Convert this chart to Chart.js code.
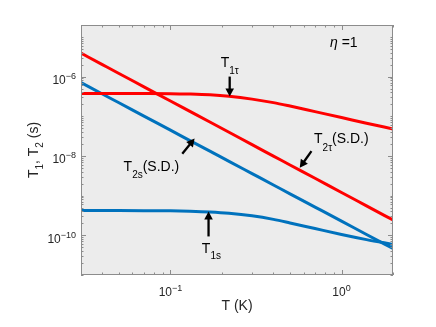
<!DOCTYPE html>
<html>
<head>
<meta charset="utf-8">
<script src="https://cdn.jsdelivr.net/npm/chart.js@4"></script>
<style>
  html, body { margin: 0; padding: 0; background: #fff; }
</style>
</head>
<body>
<canvas id="chart" width="436" height="327"></canvas>
<script>
// temperature (K) and relaxation times (s)
const temps = [0.03, 0.04, 0.05, 0.07, 0.1, 0.13, 0.17, 0.22, 0.3, 0.4, 0.5, 0.7, 1.0, 1.4, 2.0];
const t1Tau = [3.75e-7, 3.75e-7, 3.75e-7, 3.74e-7, 3.72e-7, 3.63e-7, 3.47e-7, 3.19e-7, 2.71e-7, 2.21e-7, 1.81e-7, 1.31e-7, 9.3e-8, 6.7e-8, 4.8e-8];
const t2Tau = [3.91e-6, 2.01e-6, 1.20e-6, 5.53e-7, 2.43e-7, 1.33e-7, 7.18e-8, 3.96e-8, 1.93e-8, 9.95e-9, 5.94e-9, 2.74e-9, 1.20e-9, 5.53e-10, 2.43e-10];
const t2s = [7.06e-7, 3.65e-7, 2.19e-7, 1.01e-7, 4.47e-8, 2.44e-8, 1.32e-8, 7.34e-9, 3.60e-9, 1.86e-9, 1.11e-9, 5.15e-10, 2.28e-10, 1.05e-10, 4.65e-11];
const t1s = [4.2e-10, 4.2e-10, 4.2e-10, 4.19e-10, 4.16e-10, 4.06e-10, 3.88e-10, 3.6e-10, 3.1e-10, 2.52e-10, 2.05e-10, 1.48e-10, 1.05e-10, 7.8e-11, 5.9e-11];

// labelled ticks: value and exponent text
const xTickValues = [0.1, 1];
const xTickExps = ['\u22121', '0'];
const yTickValues = [1e-10, 1e-8, 1e-6];
const yTickExps = ['\u221210', '\u22128', '\u22126'];

const X_MIN = 0.03, X_MAX = 2, Y_MIN = 1e-11, Y_MAX = 2e-5;
const FONT = '"Liberation Sans", Arial, sans-serif';
const RED = '#ff0000', BLUE = '#0072bd';

// annotation: arrow tip in data space, tail and text offsets in px
const notes = [
  {x: 0.222, y: 3.14e-7, tail: [0, -20], at: [-9, -29.7], runs: [{t: 'T', s: 14}, {t: '1τ', s: 10, dy: 6.7}]},
  {x: 0.57, y: 5.05e-9, tail: [11.7, -16.6], at: [14.3, -24.3], runs: [{t: 'T', s: 14}, {t: '2τ', s: 10, dy: 7.7}, {t: '(S.D.)', s: 14}]},
  {x: 0.1384, y: 2.75e-8, tail: [-12.3, 15.3], at: [-71, 32.7], runs: [{t: 'T', s: 14}, {t: '2s', s: 10, dy: 6.6}, {t: '(S.D.)', s: 14}]},
  {x: 0.167, y: 4.0e-10, tail: [0, 25], at: [-6.7, 41.6], runs: [{t: 'T', s: 14}, {t: '1s', s: 10, dy: 6}]}
];

function fontOf(r) { return (r.it ? 'italic ' : '') + r.s + 'px ' + FONT; }

function drawRuns(ctx, x, y, runs, align) {
  let w = 0;
  for (const r of runs) { ctx.font = fontOf(r); w += ctx.measureText(r.t).width; }
  let cx = align === 'center' ? x - w / 2 : align === 'right' ? x - w : x;
  ctx.textAlign = 'left';
  ctx.textBaseline = 'alphabetic';
  for (const r of runs) {
    ctx.font = fontOf(r);
    ctx.fillText(r.t, cx, y + (r.dy || 0));
    cx += ctx.measureText(r.t).width;
  }
}

function drawArrow(ctx, x1, y1, x2, y2) {
  const a = Math.atan2(y2 - y1, x2 - x1), head = 8, half = 4.3;
  const bx = x2 - head * Math.cos(a), by = y2 - head * Math.sin(a);
  ctx.strokeStyle = '#000';
  ctx.lineWidth = 2.3;
  ctx.beginPath(); ctx.moveTo(x1, y1); ctx.lineTo(bx + Math.cos(a), by + Math.sin(a)); ctx.stroke();
  ctx.fillStyle = '#000';
  ctx.beginPath();
  ctx.moveTo(x2, y2);
  ctx.lineTo(bx + half * Math.sin(a), by - half * Math.cos(a));
  ctx.lineTo(bx - half * Math.sin(a), by + half * Math.cos(a));
  ctx.closePath(); ctx.fill();
}

function logTicks(min, max) {
  const out = [];
  for (let e = Math.floor(Math.log10(min)); e <= Math.ceil(Math.log10(max)); e++) {
    for (let m = 1; m < 10; m++) {
      const v = m * Math.pow(10, e);
      if (v >= min * 0.999 && v <= max * 1.001) out.push(v);
    }
  }
  return out;
}
const isMajor = (list, v) => list.some(t => Math.abs(v / t - 1) < 1e-6);

const framePlugin = {
  id: 'frame',
  beforeDatasetsDraw(chart) {
    const {ctx, chartArea: a} = chart;
    ctx.save();
    ctx.fillStyle = '#ececec';
    ctx.fillRect(a.left, a.top, a.right - a.left, a.bottom - a.top);
    ctx.restore();
  },
  afterDatasetsDraw(chart) {
    const {ctx, chartArea: a, scales: {x, y}} = chart;
    ctx.save();
    ctx.strokeStyle = '#8c8c8c';
    ctx.lineWidth = 1;
    ctx.strokeRect(a.left + 0.5, a.top + 0.5, a.right - a.left - 1, a.bottom - a.top - 1);
    ctx.beginPath();
    for (const v of logTicks(X_MIN, X_MAX)) {
      const px = Math.round(x.getPixelForValue(v)) + 0.5;
      const len = isMajor(xTickValues, v) ? 5 : 2.5;
      ctx.moveTo(px, a.bottom); ctx.lineTo(px, a.bottom - len);
      ctx.moveTo(px, a.top); ctx.lineTo(px, a.top + len);
    }
    for (const v of logTicks(Y_MIN, Y_MAX)) {
      const py = Math.round(y.getPixelForValue(v)) + 0.5;
      const len = isMajor(yTickValues, v) ? 5 : 2.5;
      ctx.moveTo(a.left, py); ctx.lineTo(a.left + len, py);
      ctx.moveTo(a.right, py); ctx.lineTo(a.right - len, py);
    }
    ctx.stroke();

    // tick labels
    ctx.fillStyle = '#262626';
    xTickValues.forEach((v, i) => {
      drawRuns(ctx, x.getPixelForValue(v), a.bottom + 20.5,
        [{t: '10', s: 12}, {t: xTickExps[i], s: 9, dy: -5}], 'center');
    });
    yTickValues.forEach((v, i) => {
      drawRuns(ctx, a.left - 5, y.getPixelForValue(v) + 7.5,
        [{t: '10', s: 12}, {t: yTickExps[i], s: 9, dy: -5}], 'right');
    });

    // axis titles
    drawRuns(ctx, (a.left + a.right) / 2, a.bottom + 35, [{t: 'T (K)', s: 14}], 'center');
    ctx.translate(38, (a.top + a.bottom) / 2);
    ctx.rotate(-Math.PI / 2);
    drawRuns(ctx, 0, 0, [{t: 'T', s: 14}, {t: '1', s: 10, dy: 4.5}, {t: ', T', s: 14}, {t: '2', s: 10, dy: 4.5}, {t: ' (s)', s: 14}], 'center');
    ctx.restore();

    // annotations
    ctx.save();
    ctx.fillStyle = '#000';
    drawRuns(ctx, a.right - 63, a.top + 22, [{t: 'η', s: 14, it: true}, {t: ' =1', s: 14}], 'left');
    for (const n of notes) {
      const tx = x.getPixelForValue(n.x), ty = y.getPixelForValue(n.y);
      drawArrow(ctx, tx + n.tail[0], ty + n.tail[1], tx, ty);
      ctx.fillStyle = '#000';
      drawRuns(ctx, tx + n.at[0], ty + n.at[1], n.runs, 'left');
    }
    ctx.restore();
  }
};

const series = [
  {label: 'T1tau', values: t1Tau, color: RED},
  {label: 'T2tau', values: t2Tau, color: RED},
  {label: 'T2s', values: t2s, color: BLUE},
  {label: 'T1s', values: t1s, color: BLUE}
];

new Chart(document.getElementById('chart').getContext('2d'), {
  type: 'line',
  data: {
    datasets: series.map(s => ({
      label: s.label,
      data: temps.map((t, i) => ({x: t, y: s.values[i]})),
      borderColor: s.color,
      borderWidth: 3,
      pointRadius: 0,
      fill: false,
      cubicInterpolationMode: 'monotone'
    }))
  },
  options: {
    responsive: false,
    animation: false,
    events: [],
    layout: {padding: {left: 81, right: 43, top: 25, bottom: 52}},
    plugins: {legend: {display: false}, tooltip: {enabled: false}},
    scales: {
      x: {type: 'logarithmic', min: X_MIN, max: X_MAX, display: false},
      y: {type: 'logarithmic', min: Y_MIN, max: Y_MAX, display: false}
    }
  },
  plugins: [framePlugin]
});
</script>
</body>
</html>
